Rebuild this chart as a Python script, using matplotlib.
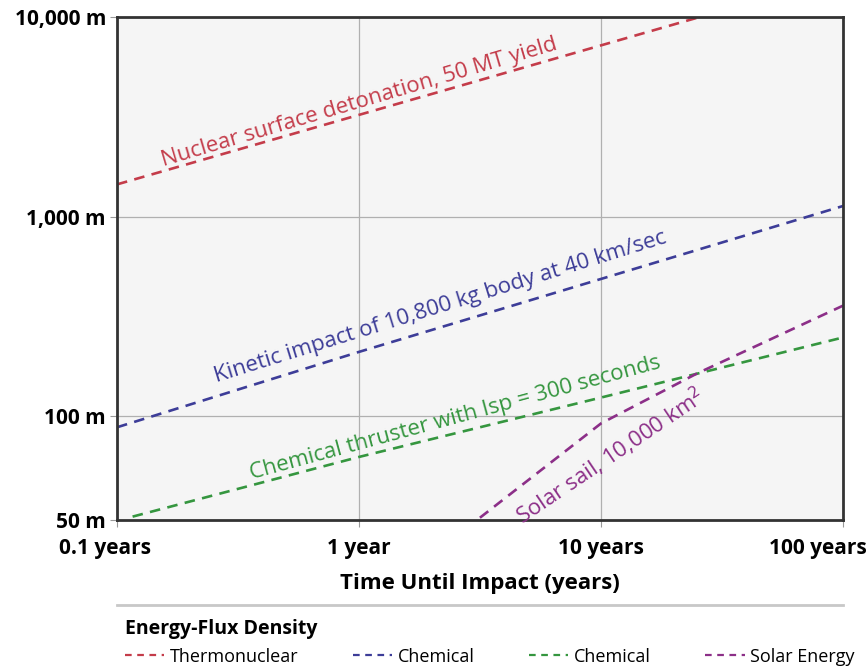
import matplotlib
matplotlib.use("Agg")
import matplotlib.pyplot as plt
import matplotlib.transforms as mtransforms
from matplotlib.lines import Line2D

# data (time in years, distance in m)
nuclear_t = [0.1, 25.6]
nuclear_m = [1450, 10000]

kinetic_t = [0.1, 1.0, 100]
kinetic_m = [88, 210, 1130]

chem_t = [0.116, 1.0, 10, 100]
chem_m = [31.4, 62.5, 124, 248]

solar_t = [3.16, 10, 25, 100]
solar_m = [31, 92, 164, 358]

xticks = [0.1, 1, 10, 100]
xticklabels = ["0.1 years", "1 year", "10 years", "100 years"]
ylo = 30.2   # bottom edge of the chart, labelled "50 m" in the original
yticks = [ylo, 100, 1000, 10000]
yticklabels = ["50 m", "100 m", "1,000 m", "10,000 m"]

legend_labels = ["Thermonuclear", "Chemical", "Chemical", "Solar Energy"]

RED = "#c43c4a"
BLUE = "#3d3d98"
GREEN = "#35963f"
PURPLE = "#8c2f88"

plt.rcParams['font.family'] = ['Open Sans', 'DejaVu Sans']

fig = plt.figure(figsize=(8.67, 6.71), dpi=100)
ax = fig.add_axes([117/867, 1-520/671, (843-117)/867, (520-17)/671])
ax.set_facecolor("#f5f5f5")

dash = (4, 2.8)
lw = 1.9
ax.plot(nuclear_t, nuclear_m, color=RED, lw=lw, dashes=dash)
ax.plot(kinetic_t, kinetic_m, color=BLUE, lw=lw, dashes=dash)
ax.plot(chem_t, chem_m, color=GREEN, lw=lw, dashes=dash)
ax.plot(solar_t, solar_m, color=PURPLE, lw=lw, dashes=dash)

ax.set_xscale("log")
ax.set_yscale("log")
ax.set_xlim(0.1, 100)
ax.set_ylim(ylo, 10000)
ax.minorticks_off()
ax.set_xticks(xticks)
ax.set_xticklabels(xticklabels, fontsize=15, fontweight="bold")
ax.set_yticks(yticks)
ax.set_yticklabels(yticklabels, fontsize=15, fontweight="bold")
ax.tick_params(axis="both", length=5, color="#999999", width=0.8, pad=3)
ax.tick_params(axis="x", pad=8)

ax.grid(True, color="#b0b0b0", lw=0.9)
ax.set_axisbelow(True)
for s in ax.spines.values():
    s.set_color("#333333")
    s.set_linewidth(2)

# nudge the outer x labels like the original
labs = ax.get_xticklabels()
labs[0].set_transform(labs[0].get_transform() + mtransforms.ScaledTranslation(-0.12, 0, fig.dpi_scale_trans))
labs[-1].set_transform(labs[-1].get_transform() + mtransforms.ScaledTranslation(-0.25, 0, fig.dpi_scale_trans))

ax.set_xlabel("Time Until Impact (years)", fontsize=16, fontweight="bold", labelpad=10)

# labels along the lines
kw = dict(ha="center", va="center", rotation_mode="anchor", fontsize=16)
ax.text(1.0, 3750, "Nuclear surface detonation, 50 MT yield", color=RED, rotation=16.5, **kw)
ax.text(2.16, 352, "Kinetic impact of 10,800 kg body at 40 km/sec", color=BLUE, rotation=17.2, **kw)
ax.text(2.49, 98, "Chemical thruster with Isp = 300 seconds", color=GREEN, rotation=15.2, **kw)
ax.text(10.9, 63, "Solar sail, 10,000 km$^2$", color=PURPLE, rotation=34, **kw)

# separator under the axis title
fig.add_artist(Line2D([117/867, 843/867], [1-605/671, 1-605/671], color="#c8c8c8", lw=2))

handles = [Line2D([], [], color=c, lw=1.6, dashes=(3, 2.5)) for c in [RED, BLUE, GREEN, PURPLE]]
leg = fig.legend(handles, legend_labels, loc="upper left", bbox_to_anchor=(112/867, 1-606/671),
                 ncol=4, frameon=False, handlelength=2.2, handletextpad=0.3,
                 columnspacing=3.0, title="Energy-Flux Density", alignment="left", borderpad=0.2,
                 prop={"size": 13}, title_fontproperties={"weight": "bold", "size": 14})

fig.savefig("out.png", dpi=100)
